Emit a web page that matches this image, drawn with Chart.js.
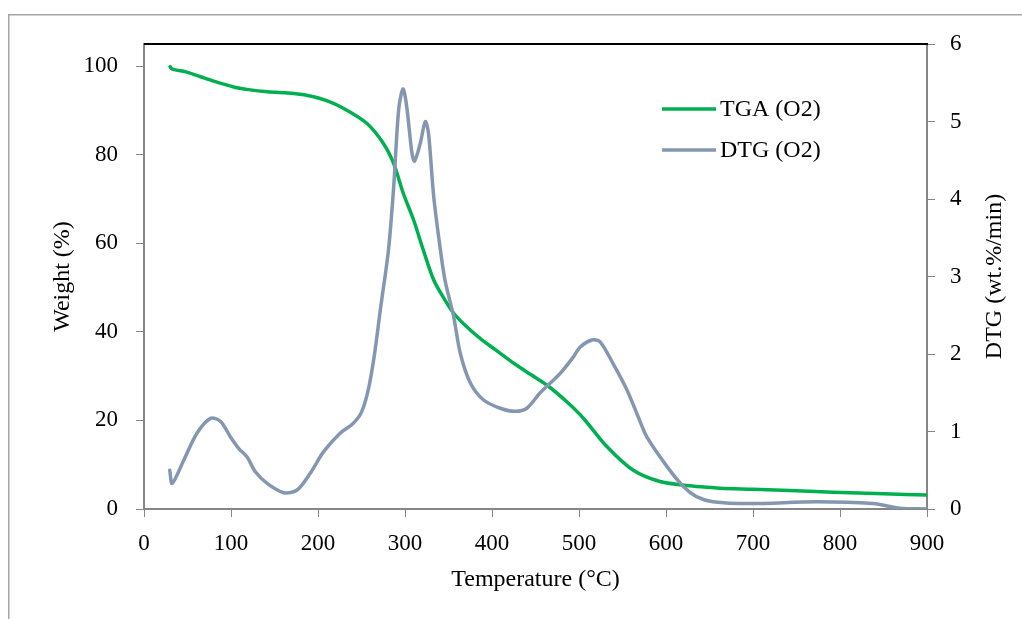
<!DOCTYPE html>
<html>
<head>
<meta charset="utf-8">
<script src="https://cdn.jsdelivr.net/npm/chart.js@4.4.1/dist/chart.umd.min.js"></script>
<style>
  html, body { margin: 0; padding: 0; background: #fff; overflow: hidden; }
  canvas { display: block; }
</style>
</head>
<body>
<canvas id="chart" width="1022" height="619"></canvas>
<script>
// TGA curve (temperature °C -> weight %)
const tgaTemp = [30, 32, 50, 65, 80, 103, 120, 142, 172, 195, 210, 230, 256, 275, 287, 298, 310, 321, 333, 345, 356, 370, 387, 405, 425, 445, 463, 486, 505, 532, 562, 593, 624, 640, 662, 700, 750, 792, 850, 900];
const tgaWeight = [99.9, 99.4, 98.6, 97.6, 96.6, 95.3, 94.7, 94.2, 93.8, 93.1, 92.2, 90.4, 87.1, 82.6, 78.0, 71.3, 65.2, 58.5, 51.7, 47.5, 44.2, 41.3, 38.4, 35.8, 32.9, 30.3, 28.0, 24.2, 20.5, 14.1, 8.8, 6.2, 5.3, 5.0, 4.7, 4.45, 4.1, 3.8, 3.45, 3.15];

// DTG curve (temperature °C -> wt.%/min)
const dtgTemp = [29.6, 32.4, 45.7, 61, 76.4, 88, 99.4, 109, 118.5, 128, 141.5, 160.6, 176, 191, 206.5, 225.7, 240, 250, 258, 265, 272, 281, 287, 292.7, 297.7, 302, 308, 311, 317.6, 323.3, 327, 333, 340, 346, 356, 363.5, 375, 390, 409.5, 426.7, 440, 455.4, 478.4, 493.4, 501.4, 514.8, 524, 539, 555, 568, 578, 601, 620, 635, 654, 697, 773, 838, 869, 900];
const dtgRate = [0.50, 0.33, 0.63, 0.98, 1.17, 1.13, 0.93, 0.78, 0.67, 0.48, 0.33, 0.21, 0.245, 0.46, 0.74, 0.98, 1.1, 1.25, 1.55, 2.0, 2.6, 3.34, 4.16, 5.15, 5.42, 5.19, 4.59, 4.49, 4.72, 5.0, 4.85, 4.03, 3.4, 2.95, 2.48, 2.01, 1.63, 1.41, 1.30, 1.26, 1.30, 1.50, 1.75, 1.96, 2.09, 2.18, 2.16, 1.88, 1.54, 1.19, 0.93, 0.55, 0.29, 0.16, 0.094, 0.07, 0.094, 0.07, 0.01, 0.0];

// tick labels
const tempTicks = [0, 100, 200, 300, 400, 500, 600, 700, 800, 900];
const weightTicks = [0, 20, 40, 60, 80, 100];
const dtgTicks = [0, 1, 2, 3, 4, 5, 6];

const seriesNames = ['TGA (O2)', 'DTG (O2)'];
const seriesColors = ['#00B050', '#8497B0'];

const FONT = '"Liberation Serif", "Times New Roman", serif';
const AXIS_GREY = '#868686';

Chart.defaults.font.family = FONT;
Chart.defaults.color = '#000';

// frame, top border, right title and legend like the Excel original
const decor = {
    id: 'decor',
    beforeDraw(chart) {
        const c = chart.ctx;
        c.save();
        c.fillStyle = '#fff';
        c.fillRect(0, 0, chart.width, chart.height);
        c.strokeStyle = '#a6a6a6';
        c.lineWidth = 1.5;
        c.beginPath();
        c.moveTo(8.75, chart.height + 2);
        c.lineTo(8.75, 14.75);
        c.lineTo(chart.width + 2, 14.75);
        c.stroke();
        c.restore();
    },
    afterDraw(chart) {
        const c = chart.ctx;
        const a = chart.chartArea;
        c.save();
        // black top edge of the plot area
        c.strokeStyle = '#000';
        c.lineWidth = 2;
        c.beginPath();
        c.moveTo(a.left, a.top);
        c.lineTo(a.right + 1, a.top);
        c.stroke();

        // right axis title, reading upward
        c.fillStyle = '#000';
        c.font = '24px ' + FONT;
        c.textAlign = 'center';
        c.textBaseline = 'middle';
        c.translate(995, (a.top + a.bottom) / 2);
        c.rotate(-Math.PI / 2);
        c.fillText('DTG (wt.%/min)', 0, 0);
        c.restore();

        // legend
        c.save();
        c.font = '24px ' + FONT;
        c.textAlign = 'left';
        c.textBaseline = 'middle';
        c.lineWidth = 3.5;
        const ys = [109, 150];
        seriesNames.forEach((name, i) => {
            c.strokeStyle = seriesColors[i];
            c.beginPath();
            c.moveTo(662, ys[i]);
            c.lineTo(716, ys[i]);
            c.stroke();
            c.fillStyle = '#000';
            c.fillText(name, 720, ys[i] + 1);
        });
        c.restore();
    }
};

const ctx = document.getElementById('chart').getContext('2d');

new Chart(ctx, {
    type: 'line',
    data: {
        datasets: [{
            label: seriesNames[1],
            data: dtgTemp.map((t, i) => ({ x: t, y: dtgRate[i] })),
            borderColor: seriesColors[1],
            borderWidth: 3.5,
            pointRadius: 0,
            tension: 0.3,
            borderCapStyle: 'round',
            borderJoinStyle: 'round',
            yAxisID: 'y2',
            order: 0
        }, {
            label: seriesNames[0],
            data: tgaTemp.map((t, i) => ({ x: t, y: tgaWeight[i] })),
            borderColor: seriesColors[0],
            borderWidth: 3.5,
            pointRadius: 0,
            tension: 0.3,
            borderCapStyle: 'round',
            borderJoinStyle: 'round',
            yAxisID: 'y',
            order: 1
        }]
    },
    options: {
        responsive: false,
        animation: false,
        layout: { padding: { left: 0, right: 0, top: 44, bottom: 0 } },
        plugins: {
            legend: { display: false },
            title: { display: false },
            tooltip: { enabled: false }
        },
        scales: {
            x: {
                type: 'linear',
                position: 'bottom',
                min: 0,
                max: 900,
                afterBuildTicks: s => { s.ticks = tempTicks.map(v => ({ value: v })); },
                afterFit: s => { s.height = 110; },
                ticks: { font: { size: 23 }, padding: 13, maxRotation: 0 },
                grid: { drawOnChartArea: false, drawTicks: true, tickLength: 8, color: AXIS_GREY },
                border: { color: AXIS_GREY, width: 2 },
                title: { display: true, text: 'Temperature (°C)', font: { size: 24 }, padding: { top: 0, bottom: 25 } }
            },
            y: {
                position: 'left',
                min: 0,
                max: 105,
                afterBuildTicks: s => { s.ticks = weightTicks.map(v => ({ value: v })); },
                afterFit: s => { s.width = 144; },
                ticks: { font: { size: 23 }, padding: 18 },
                grid: { drawOnChartArea: false, drawTicks: true, tickLength: 8, color: AXIS_GREY },
                border: { color: AXIS_GREY, width: 2 },
                title: { display: true, text: 'Weight (%)', font: { size: 24 }, padding: { top: 48, bottom: 0 } }
            },
            y2: {
                position: 'right',
                min: 0,
                max: 6,
                afterBuildTicks: s => { s.ticks = dtgTicks.map(v => ({ value: v })); },
                afterFit: s => { s.width = 95; },
                ticks: { font: { size: 23 }, padding: 15 },
                grid: { drawOnChartArea: false, drawTicks: true, tickLength: 8, color: AXIS_GREY },
                border: { color: AXIS_GREY, width: 2 },
                title: { display: false }
            }
        }
    },
    plugins: [decor]
});
</script>
</body>
</html>
